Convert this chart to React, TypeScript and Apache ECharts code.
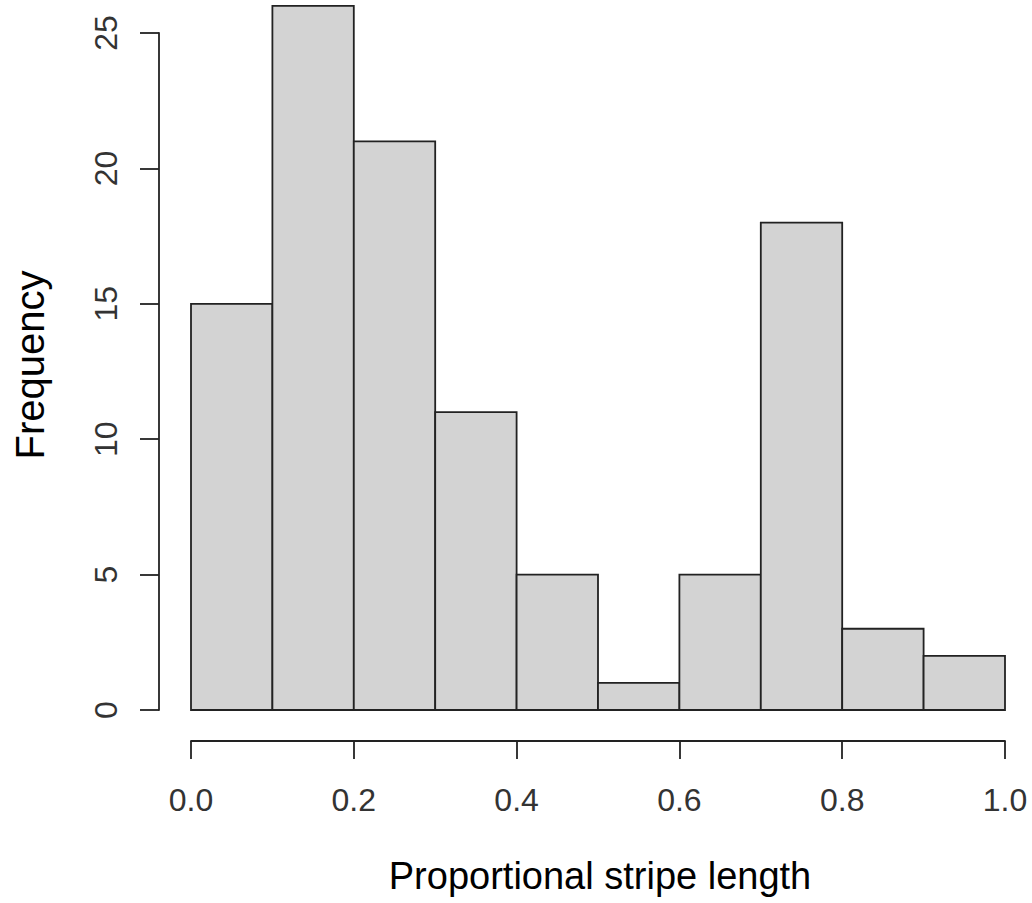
import React, { useEffect, useRef } from "react";
import * as echarts from "echarts";

const binStarts = [0.0, 0.1, 0.2, 0.3, 0.4, 0.5, 0.6, 0.7, 0.8, 0.9];
const binEnds = [0.1, 0.2, 0.3, 0.4, 0.5, 0.6, 0.7, 0.8, 0.9, 1.0];
const counts = [15, 26, 21, 11, 5, 1, 5, 18, 3, 2];
const xTitle = "Proportional stripe length";
const yTitle = "Frequency";

export default function App() {
  const ref = useRef<HTMLDivElement>(null);
  useEffect(() => {
    if (!ref.current) return;
    const chart = echarts.init(ref.current, undefined, { renderer: "svg" });
    const data = counts.map((c, i) => [binStarts[i], binEnds[i], c]);
    const font = "Liberation Sans, Arial, sans-serif";
    chart.setOption({
      animation: false,
      backgroundColor: "#ffffff",
      grid: { left: 191, right: 27, top: 33, bottom: 193 },
      xAxis: {
        type: "value",
        min: 0,
        max: 1,
        interval: 0.2,
        offset: 31,
        splitLine: { show: false },
        axisLine: { show: true, onZero: false, lineStyle: { color: "#222", width: 1.8 } },
        axisTick: { show: true, length: 18, lineStyle: { color: "#222", width: 1.8 } },
        axisLabel: {
          color: "#333",
          fontSize: 32,
          fontFamily: font,
          margin: 43,
          formatter: (v: number) => v.toFixed(1),
        },
      },
      yAxis: {
        type: "value",
        min: 0,
        max: 25,
        interval: 5,
        offset: 32,
        splitLine: { show: false },
        axisLine: { show: true, onZero: false, lineStyle: { color: "#222", width: 1.8 } },
        axisTick: { show: true, length: 19, lineStyle: { color: "#222", width: 1.8 } },
        axisLabel: {
          color: "#333",
          fontSize: 32,
          fontFamily: font,
          rotate: 90,
          margin: 37,
        },
      },
      graphic: [
        {
          type: "text",
          x: 600,
          y: 876,
          style: {
            text: xTitle,
            fontSize: 38,
            fontFamily: font,
            fill: "#000",
            align: "center",
            verticalAlign: "middle",
          },
        },
        {
          type: "text",
          x: 30,
          y: 365,
          rotation: Math.PI / 2,
          style: {
            text: yTitle,
            fontSize: 40,
            fontFamily: font,
            fill: "#000",
            align: "center",
            verticalAlign: "middle",
          },
        },
      ],
      series: [
        {
          type: "custom",
          clip: false,
          data,
          renderItem: (params: any, api: any) => {
            const x0 = api.value(0);
            const x1 = api.value(1);
            const c = api.value(2);
            const p0 = api.coord([x0, c]);
            const p1 = api.coord([x1, 0]);
            return {
              type: "rect",
              shape: { x: p0[0], y: p0[1], width: p1[0] - p0[0], height: p1[1] - p0[1] },
              style: { fill: "#d3d3d3", stroke: "#222", lineWidth: 1.8 },
            };
          },
        },
      ],
    });
    return () => chart.dispose();
  }, []);
  return (
    <div
      ref={ref}
      style={{ position: "absolute", left: 0, top: 0, width: 1032, height: 903 }}
    />
  );
}
